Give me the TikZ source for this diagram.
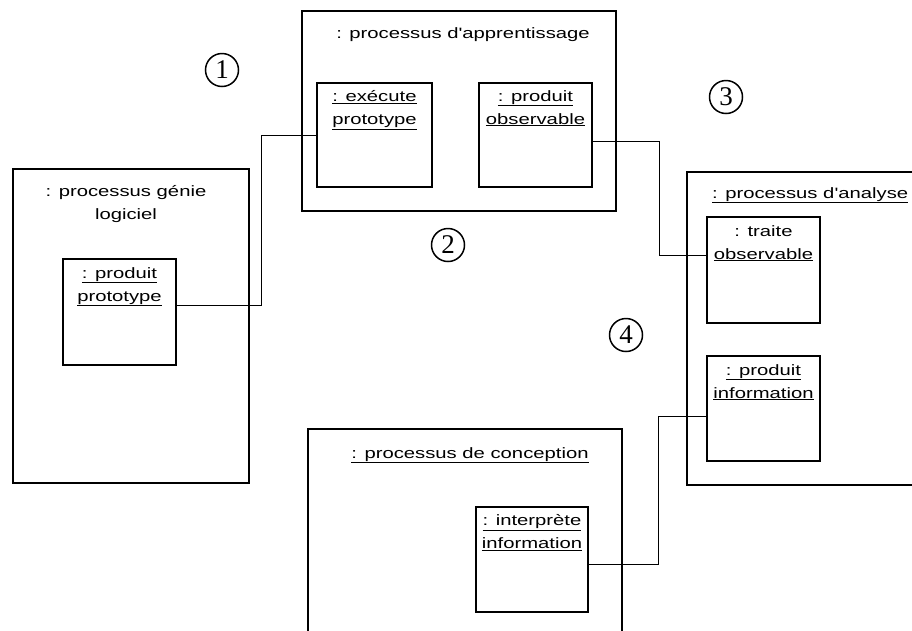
\documentclass[tikz,border=0pt]{standalone}
\usepackage{fontspec}
\usepackage{tikz}
\usetikzlibrary{positioning}
\newfontfamily\labelfam[FakeStretch=1.35]{Liberation Sans}
\newfontfamily\numfam{Liberation Serif}
\newcommand{\lblfont}{\labelfam\fontsize{15}{23}\selectfont}
\newcommand{\numfont}{\numfam\fontsize{27}{27}\selectfont}
\tikzset{
  objbox/.style={draw, line width=1.5pt, anchor=north west, inner sep=0pt, outer sep=0pt},
  objtext/.style={anchor=north, align=center, inner sep=0pt, font=\lblfont},
  stepnum/.style={draw, circle, line width=1.5pt, minimum size=33pt, inner sep=0pt, font=\numfont},
  link/.style={line width=1pt},
}
\begin{document}
\begin{tikzpicture}[x=1pt, y=-1pt]
\useasboundingbox (0,0) rectangle (912,630);
\clip (0,0) rectangle (912,630);
\fill[white] (0,0) rectangle (912,630);
% processus
\node[objbox, minimum width=236pt, minimum height=314pt] (genie) at (13,169) {}; % genie logiciel
\node[objtext, below=16pt of genie.north, xshift=-5pt] (genielbl) {: processus génie\\logiciel};
\node[objbox, minimum width=314pt, minimum height=200pt] (appr) at (302,11) {}; % apprentissage
\node[objtext, below=16pt of appr.north, xshift=4pt] (apprlbl) {: processus d'apprentissage};
\node[objbox, minimum width=250pt, minimum height=313pt] (analyse) at (687,172) {}; % analyse
\node[objtext, anchor=north west] (analyselbl) at (712,187) {\underline{: processus d'analyse}};
\node[objbox, minimum width=314pt, minimum height=240pt] (concep) at (308,429) {}; % conception
\node[objtext, below=18pt of concep.north, xshift=5pt] (conceplbl) {\underline{: processus de conception}};
% objets
\node[objbox, minimum width=113pt, minimum height=106pt] (proto) at (63,259) {};
\node[objtext, below=8pt of proto.north] (protolbl) {\underline{: produit}\\\underline{prototype}};
\node[objbox, minimum width=115pt, minimum height=104pt] (exec) at (317,83) {};
\node[objtext, below=7pt of exec.north] (execlbl) {\underline{: exécute}\\\underline{prototype}};
\node[objbox, minimum width=113pt, minimum height=104pt] (obs) at (479,83) {};
\node[objtext, below=7pt of obs.north] (obslbl) {\underline{: produit}\\\underline{observable}};
\node[objbox, minimum width=113pt, minimum height=106pt] (traite) at (707,217) {};
\node[objtext, below=8pt of traite.north] (traitelbl) {: traite\\\underline{observable}};
\node[objbox, minimum width=113pt, minimum height=105pt] (info) at (707,356) {};
\node[objtext, below=8pt of info.north] (infolbl) {\underline{: produit}\\\underline{information}};
\node[objbox, minimum width=112pt, minimum height=105pt] (interp) at (476,507) {};
\node[objtext, below=7pt of interp.north] (interplbl) {\underline{: interprète}\\\underline{information}};
% liens
\draw[link] ([yshift=7pt]proto.east) -- ++(85,0) |- (exec.west);
\draw[link] ([yshift=-6pt]obs.east) -- ++(67,0) |- ([yshift=15pt]traite.west);
\draw[link] ([yshift=-5pt]interp.east) -- ++(70,0) |- ([yshift=-8pt]info.west);
% etapes
\node[stepnum] (n1) at (222,70) {1};
\node[stepnum] (n2) at (448,245) {2};
\node[stepnum] (n3) at (726,97) {3};
\node[stepnum] (n4) at (626,335) {4};
\end{tikzpicture}
\end{document}
